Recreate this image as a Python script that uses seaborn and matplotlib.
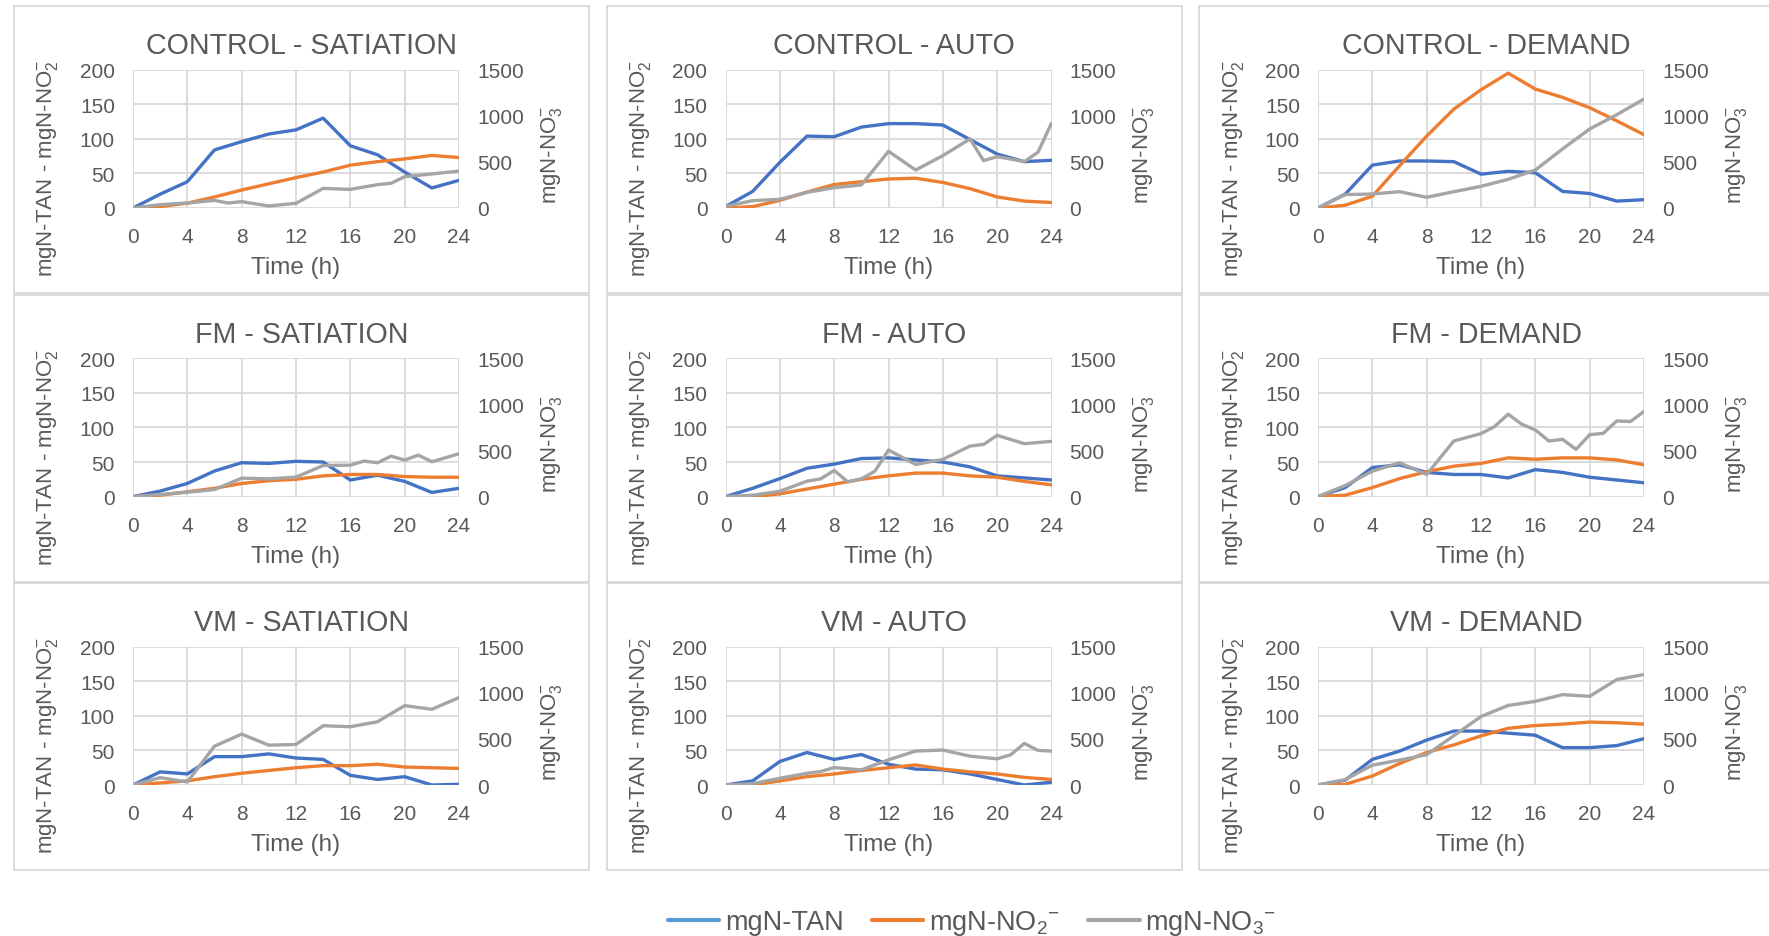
import matplotlib
matplotlib.use("Agg")
import matplotlib.pyplot as plt
import seaborn as sns
from matplotlib.lines import Line2D
from matplotlib.patches import Rectangle

# ---------------- data ----------------
hours = [0, 2, 4, 6, 8, 10, 12, 14, 16, 18, 20, 22, 24]

# CONTROL - SATIATION
cs_tan = [0, 20, 38, 84, 96, 107, 113, 130, 90, 77, 52, 29, 40]
cs_no2 = [0, 2, 7, 16, 26, 35, 44, 52, 62, 67, 71, 76, 73]
cs_no3_t = [0, 2, 4, 6, 7, 8, 10, 12, 14, 16, 18, 19, 20, 22, 24]
cs_no3 = [0, 36, 54, 83, 54, 69, 22, 51, 213, 202, 253, 268, 340, 369, 401]

# CONTROL - AUTO
ca_tan = [2, 24, 66, 104, 103, 117, 122, 122, 120, 99, 78, 67, 69]
ca_no2 = [0, 2, 11, 23, 34, 38, 42, 43, 37, 28, 16, 10, 8]
ca_no3_t = [0, 2, 4, 6, 8, 10, 12, 14, 16, 18, 19, 20, 22, 23, 24]
ca_no3 = [18, 80, 94, 170, 220, 250, 615, 412, 568, 749, 514, 557, 503, 604, 919]

# CONTROL - DEMAND
cd_tan = [0, 20, 62, 68, 68, 67, 49, 53, 51, 24, 21, 10, 12]
cd_no2 = [0, 4, 17, 61, 104, 143, 171, 195, 172, 160, 145, 126, 106]
cd_no3_t = hours
cd_no3 = [0, 145, 152, 177, 116, 177, 235, 311, 412, 640, 857, 1012, 1182]

# FM - SATIATION
fs_tan = [0, 8, 19, 37, 49, 48, 51, 50, 24, 31, 22, 6, 12]
fs_no2 = [0, 2, 7, 12, 19, 23, 25, 30, 32, 32, 29, 28, 28]
fs_no3_t = [0, 2, 4, 6, 8, 10, 12, 14, 16, 17, 18, 19, 20, 21, 22, 24]
fs_no3 = [0, 22, 47, 76, 200, 192, 211, 338, 341, 385, 367, 439, 396, 450, 378, 465]

# FM - AUTO
fa_tan = [0, 12, 26, 41, 47, 55, 56, 53, 50, 43, 30, 27, 24]
fa_no2 = [0, 0, 4, 11, 18, 25, 30, 34, 34, 30, 28, 22, 17]
fa_no3_t = [0, 2, 4, 6, 7, 8, 9, 10, 11, 12, 14, 16, 18, 19, 20, 22, 24]
fa_no3 = [0, 15, 58, 167, 192, 283, 160, 192, 276, 505, 349, 403, 548, 566, 664, 574, 599]

# FM - DEMAND
fd_tan = [0, 13, 42, 46, 35, 32, 32, 27, 39, 35, 28, 24, 20]
fd_no2 = [0, 2, 13, 26, 36, 44, 48, 56, 54, 56, 56, 53, 46]
fd_no3_t = [0, 2, 4, 6, 8, 10, 12, 13, 14, 15, 16, 17, 18, 19, 20, 21, 22, 23, 24]
fd_no3 = [0, 120, 276, 367, 240, 603, 683, 760, 894, 785, 723, 603, 621, 512, 672, 686, 821, 814, 923]

# VM - SATIATION
vs_tan = [0, 19, 16, 41, 41, 45, 39, 37, 14, 8, 12, 0, 1]
vs_no2 = [0, 3, 6, 12, 17, 21, 25, 28, 28, 30, 26, 25, 24]
vs_no3_t = hours
vs_no3 = [0, 80, 33, 421, 552, 432, 440, 643, 632, 686, 861, 821, 948]

# VM - AUTO
va_tan = [0, 6, 34, 47, 37, 44, 30, 23, 22, 16, 8, 0, 4]
va_no2 = [0, 0, 6, 12, 16, 21, 25, 29, 23, 19, 16, 11, 8]
va_no3_t = [0, 2, 4, 6, 7, 8, 10, 12, 14, 16, 18, 20, 21, 22, 23, 24]
va_no3 = [0, 15, 73, 127, 146, 189, 164, 273, 368, 379, 313, 284, 328, 451, 375, 368]

# VM - DEMAND
vd_tan = [0, 7, 37, 49, 65, 78, 78, 75, 72, 54, 54, 57, 67]
vd_no2 = [0, 1, 13, 31, 47, 58, 71, 82, 86, 88, 91, 90, 88]
vd_no3_t = hours
vd_no3 = [0, 58, 215, 270, 328, 535, 743, 863, 907, 980, 962, 1144, 1198]

titles = ["CONTROL - SATIATION", "CONTROL - AUTO", "CONTROL - DEMAND",
          "FM - SATIATION", "FM - AUTO", "FM - DEMAND",
          "VM - SATIATION", "VM - AUTO", "VM - DEMAND"]
panels = [
    (cs_tan, cs_no2, cs_no3_t, cs_no3), (ca_tan, ca_no2, ca_no3_t, ca_no3), (cd_tan, cd_no2, cd_no3_t, cd_no3),
    (fs_tan, fs_no2, fs_no3_t, fs_no3), (fa_tan, fa_no2, fa_no3_t, fa_no3), (fd_tan, fd_no2, fd_no3_t, fd_no3),
    (vs_tan, vs_no2, vs_no3_t, vs_no3), (va_tan, va_no2, va_no3_t, va_no3), (vd_tan, vd_no2, vd_no3_t, vd_no3),
]
x_ticks = [0, 4, 8, 12, 16, 20, 24]
left_ticks = [0, 50, 100, 150, 200]
right_ticks = [0, 500, 1000, 1500]
legend_labels = ["mgN-TAN", "mgN-NO$_2$$^{-}$", "mgN-NO$_3$$^{-}$"]

# ---------------- style ----------------
sns.set_style("white")
plt.rcParams["font.family"] = ["Liberation Sans", "DejaVu Sans"]
plt.rcParams["mathtext.fontset"] = "custom"
plt.rcParams["mathtext.rm"] = "Liberation Sans"
plt.rcParams["mathtext.it"] = "Liberation Sans"
plt.rcParams["mathtext.bf"] = "Liberation Sans:bold"
plt.rcParams["mathtext.default"] = "regular"

TXT = "#595959"
GRID = "#D9D9D9"
C_TAN = "#4472C4"
C_NO2 = "#ED7D31"
C_NO3 = "#A5A5A5"
LW = 2.4

W, H = 1769, 937
fig = plt.figure(figsize=(W / 100, H / 100), dpi=100)
fig.patch.set_facecolor("white")


def fx(px):
    return px / W


def fy(py):
    return 1 - py / H


plot_x0, plot_w = 133, 326
plot_y0, plot_h = 70.7, 138.3
box_x0, box_y0, box_h = 14, 7, 287
box_ws = [575, 575, 600]
col_off = [0, 592.5, 1185]
row_off = [0, 288.6, 577]

for i, (tan, no2, no3_t, no3) in enumerate(panels):
    r, c = divmod(i, 3)
    dx, dy = col_off[c], row_off[r]
    # panel frame
    fig.add_artist(Rectangle((fx(box_x0 + dx), fy(box_y0 + dy + box_h)), box_ws[c] / W, box_h / H,
                             transform=fig.transFigure, fill=False, ec=GRID, lw=1.3, zorder=0))
    px0, py0 = plot_x0 + dx, plot_y0 + dy
    ax = fig.add_axes([fx(px0), fy(py0 + plot_h), plot_w / W, plot_h / H])
    ax2 = ax.twinx()
    sns.lineplot(x=hours, y=tan, ax=ax, color=C_TAN, lw=LW, zorder=3)
    sns.lineplot(x=hours, y=no2, ax=ax, color=C_NO2, lw=LW, zorder=3)
    sns.lineplot(x=no3_t, y=no3, ax=ax2, color=C_NO3, lw=LW, zorder=3)

    ax.set_xlim(0, 24)
    ax.set_ylim(0, 200)
    ax2.set_ylim(0, 1500)
    ax.set_xticks(x_ticks)
    ax.set_yticks(left_ticks)
    ax2.set_yticks(right_ticks)
    ax.grid(True, color=GRID, lw=1.3)
    ax.set_axisbelow(True)
    for a in (ax, ax2):
        for s in a.spines.values():
            s.set_visible(False)
        a.set_xlabel("")
        a.set_ylabel("")
    ax.tick_params(axis="both", length=0, labelsize=15, labelcolor=TXT)
    ax.tick_params(axis="y", pad=13)
    ax.tick_params(axis="x", pad=14)
    ax2.tick_params(axis="y", length=0, labelsize=15, labelcolor=TXT, pad=13)
    ax2.patch.set_visible(False)

    # texts
    fig.text(fx(box_x0 + dx + 575 / 2), fy(46 + dy), titles[i], fontsize=20.6,
             color=TXT, ha="center", va="center")
    fig.text(fx(px0 + plot_w / 2), fy(268 + dy), "Time (h)", fontsize=17.5,
             color=TXT, ha="center", va="center")
    fig.text(fx(48 + dx), fy(169 + dy), "mgN-TAN - mgN-NO$_2^{-}$", fontsize=16,
             color=TXT, ha="center", va="center", rotation=90)
    fig.text(fx(551 + dx), fy(155 + dy), "mgN-NO$_3^{-}$", fontsize=16,
             color=TXT, ha="center", va="center", rotation=90)

handles = [Line2D([], [], color="#5B9BD5", lw=3),
           Line2D([], [], color=C_NO2, lw=3),
           Line2D([], [], color=C_NO3, lw=3)]
leg = fig.legend(handles, legend_labels, loc="center", bbox_to_anchor=(fx(972), fy(924)),
                 ncol=3, frameon=False, fontsize=19.5, handlelength=1.9, handletextpad=0.2,
                 columnspacing=1.05, labelcolor=TXT)

fig.savefig("out.png", dpi=100, facecolor="white")
